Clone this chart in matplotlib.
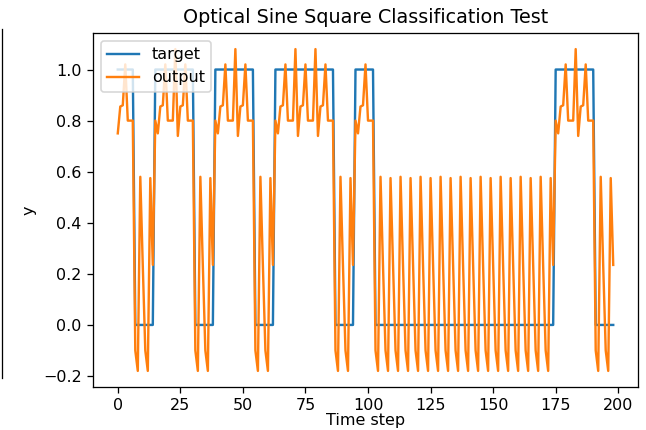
import matplotlib
matplotlib.use('Agg')
import matplotlib.pyplot as plt
from matplotlib.lines import Line2D

# classifier target per time step (1 = square period, 0 = sine period)
target = [
    1, 1, 1, 1, 1, 1, 1,
    0, 0, 0, 0, 0, 0, 0, 0,
    1, 1, 1, 1, 1, 1, 1, 1,
    1, 1, 1, 1, 1, 1, 1, 1,
    0, 0, 0, 0, 0, 0, 0, 0,
    1, 1, 1, 1, 1, 1, 1, 1,
    1, 1, 1, 1, 1, 1, 1, 1,
    0, 0, 0, 0, 0, 0, 0, 0,
    1, 1, 1, 1, 1, 1, 1, 1,
    1, 1, 1, 1, 1, 1, 1, 1,
    1, 1, 1, 1, 1, 1, 1, 1,
    0, 0, 0, 0, 0, 0, 0, 0,
    1, 1, 1, 1, 1, 1, 1, 1,
    0, 0, 0, 0, 0, 0, 0, 0,
    0, 0, 0, 0, 0, 0, 0, 0,
    0, 0, 0, 0, 0, 0, 0, 0,
    0, 0, 0, 0, 0, 0, 0, 0,
    0, 0, 0, 0, 0, 0, 0, 0,
    0, 0, 0, 0, 0, 0, 0, 0,
    0, 0, 0, 0, 0, 0, 0, 0,
    0, 0, 0, 0, 0, 0, 0, 0,
    0, 0, 0, 0, 0, 0, 0, 0,
    1, 1, 1, 1, 1, 1, 1, 1,
    1, 1, 1, 1, 1, 1, 1, 1,
    0, 0, 0, 0, 0, 0, 0, 0,
]

# optical reservoir readout
output = [
    0.75, 0.855, 0.86, 1.02, 0.80, 0.80, 0.80,
    -0.10, -0.18, 0.58, 0.23, -0.10, -0.18, 0.575, 0.235,
    0.80, 0.75, 0.855, 0.86, 1.02, 0.80, 0.80, 0.80,
    1.08, 0.74, 0.855, 0.86, 1.02, 0.80, 0.80, 0.80,
    -0.10, -0.18, 0.58, 0.23, -0.10, -0.18, 0.575, 0.235,
    0.80, 0.75, 0.855, 0.86, 1.02, 0.80, 0.80, 0.80,
    1.08, 0.74, 0.855, 0.86, 1.02, 0.80, 0.80, 0.80,
    -0.10, -0.18, 0.58, 0.23, -0.10, -0.18, 0.575, 0.235,
    0.80, 0.75, 0.855, 0.86, 1.02, 0.80, 0.80, 0.80,
    1.08, 0.74, 0.855, 0.86, 1.02, 0.80, 0.80, 0.80,
    1.08, 0.74, 0.855, 0.86, 1.02, 0.80, 0.80, 0.80,
    -0.10, -0.18, 0.58, 0.23, -0.10, -0.18, 0.575, 0.235,
    0.80, 0.75, 0.855, 0.86, 1.02, 0.80, 0.80, 0.80,
    -0.10, -0.18, 0.58, 0.23, -0.10, -0.18, 0.575, 0.235,
    -0.10, -0.18, 0.58, 0.23, -0.10, -0.18, 0.575, 0.235,
    -0.10, -0.18, 0.58, 0.23, -0.10, -0.18, 0.575, 0.235,
    -0.10, -0.18, 0.58, 0.23, -0.10, -0.18, 0.575, 0.235,
    -0.10, -0.18, 0.58, 0.23, -0.10, -0.18, 0.575, 0.235,
    -0.10, -0.18, 0.58, 0.23, -0.10, -0.18, 0.575, 0.235,
    -0.10, -0.18, 0.58, 0.23, -0.10, -0.18, 0.575, 0.235,
    -0.10, -0.18, 0.58, 0.23, -0.10, -0.18, 0.575, 0.235,
    -0.10, -0.18, 0.58, 0.23, -0.10, -0.18, 0.575, 0.235,
    0.80, 0.75, 0.855, 0.86, 1.02, 0.80, 0.80, 0.80,
    1.08, 0.74, 0.855, 0.86, 1.02, 0.80, 0.80, 0.80,
    -0.10, -0.18, 0.58, 0.23, -0.10, -0.18, 0.575, 0.235,
]

steps = list(range(len(output)))

dpi = 115
fig = plt.figure(figsize=(646 / dpi, 430 / dpi), dpi=dpi)
ax = fig.add_axes([93 / 646, 43 / 430, 545 / 646, 354 / 430])

ax.plot(steps, target, label='target')
ax.plot(steps, output, label='output')

ax.set_title('Optical Sine Square Classification Test')
ax.set_xlabel('Time step', labelpad=0)
ax.set_ylabel('y')
ax.legend(loc='upper left')

# edge of the neighbouring panel
fig.add_artist(Line2D([2 / 646, 2 / 646], [1 - 29 / 430, 1 - 378 / 430],
                      color='black', linewidth=0.8))

fig.savefig('out.png', dpi=dpi)
